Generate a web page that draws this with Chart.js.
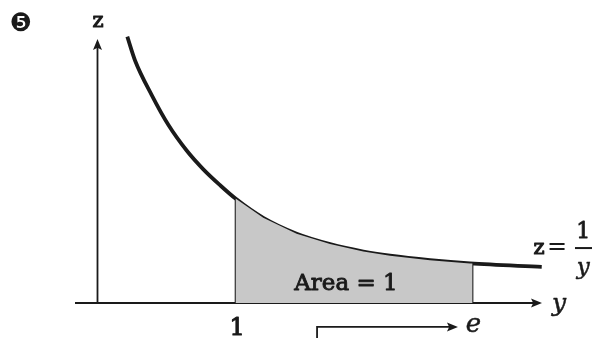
<!DOCTYPE html>
<html>
<head>
<meta charset="utf-8">
<script src="https://cdn.jsdelivr.net/npm/chart.js@4"></script>
<style>
html,body{margin:0;padding:0;background:#fff;}
#wrap{width:592px;height:338px;}
</style>
</head>
<body>
<div id="wrap"><canvas id="c" width="592" height="338"></canvas></div>
<script>
// ---- data ----
const curveY = [0.216,0.272,0.393,0.513,0.646,0.767,0.888,1.0,1.201,1.443,1.685,1.926,2.12,2.409,2.699,3.219];
const curveZ = [2.69,2.45,2.10,1.80,1.54,1.35,1.19,1.055,0.86,0.70,0.595,0.52,0.478,0.433,0.40,0.365];
const areaFrom = 1;
const areaTo = 2.718;       // e
const areaToZ = 0.398;
const tickLabels = ["1", "e"];
const tickValues = [1, 2.718];
const axisNames = ["y", "z"];
const areaLabel = "Area = 1";
const figureNumber = "❺";

// ---- derived ----
const curvePts = curveY.map((v,i)=>({x:v,y:curveZ[i]}));
const areaPts = curvePts.filter(p=>p.x>=areaFrom && p.x<=areaTo).concat([{x:areaTo,y:areaToZ}]);
const leftEdge = [{x:areaFrom,y:0},{x:areaFrom,y:areaPts[0].y}];
const rightEdge = [{x:areaTo,y:0},{x:areaTo,y:areaToZ}];
const hAxis = [{x:-0.163,y:0},{x:3.17,y:0}];
const vAxis = [{x:0,y:0},{x:0,y:2.62}];
const callout = [{x:1.591,y:-0.4},{x:1.591,y:-0.242},{x:2.56,y:-0.242}];

const ink = '#1a1a1a';

function arrowHead(ctx, x, y, dir, len, half){
  ctx.save();
  ctx.translate(x,y);
  ctx.rotate(dir);
  ctx.beginPath();
  ctx.moveTo(0,0);
  ctx.lineTo(-len,-half);
  ctx.lineTo(-len*0.8,0);
  ctx.lineTo(-len,half);
  ctx.closePath();
  ctx.fillStyle = ink;
  ctx.fill();
  ctx.restore();
}

function txt(ctx, s, x, y, font, heavy){
  ctx.font = font;
  ctx.fillText(s, x, y);
  if (heavy){
    ctx.lineWidth = heavy;
    ctx.strokeText(s, x, y);
  }
}

const annot = {
  id:'annot',
  afterDatasetsDraw(chart){
    const ctx = chart.ctx, sx = chart.scales.x, sy = chart.scales.y;
    const X = v=>sx.getPixelForValue(v), Y = v=>sy.getPixelForValue(v);
    // arrowheads
    arrowHead(ctx, X(3.221), Y(0), 0, 11, 4.5);
    arrowHead(ctx, X(0), Y(2.667), -Math.PI/2, 11, 4.5);
    arrowHead(ctx, X(2.612), Y(-0.242), 0, 11, 4.5);
    ctx.save();
    ctx.fillStyle = ink;
    ctx.strokeStyle = ink;
    ctx.lineJoin = 'round';
    ctx.textAlign = 'center';
    ctx.textBaseline = 'alphabetic';
    txt(ctx, figureNumber, X(-0.556), Y(2.75), '25px "DejaVu Sans"', 0);
    txt(ctx, axisNames[1], X(0.004), Y(2.79), '21px "DejaVu Serif"', 1.1);
    txt(ctx, axisNames[0], X(3.344), Y(-0.081), 'italic 25px "DejaVu Serif"', 0.5);
    txt(ctx, tickLabels[0], X(tickValues[0]+0.011), Y(-0.325), '24px "DejaVu Serif"', 1.1);
    txt(ctx, tickLabels[1], X(2.725), Y(-0.29), 'italic 26px "DejaVu Serif"', 0.5);
    txt(ctx, areaLabel, X(1.80), Y(0.13), '23px "DejaVu Serif"', 0.9);
    // z = 1/y
    txt(ctx, 'z', X(3.199), Y(0.50), '21px "DejaVu Serif"', 1.1);
    txt(ctx, '=', X(3.33), Y(0.50), '24px "DejaVu Serif"', 0);
    txt(ctx, '1', X(3.52), Y(0.655), '22px "DejaVu Serif"', 0.9);
    txt(ctx, 'y', X(3.52), Y(0.29), 'italic 23px "DejaVu Serif"', 0.5);
    ctx.fillRect(X(3.46), Y(0.555)-1, X(3.59)-X(3.46), 2);
    ctx.restore();
  }
};

new Chart(document.getElementById('c'), {
  type:'scatter',
  data:{datasets:[
    {data:areaPts, showLine:true, tension:0, borderWidth:0, pointRadius:0, fill:'origin', backgroundColor:'#c8c8c8', borderColor:'rgba(0,0,0,0)'},
    {data:leftEdge, showLine:true, borderWidth:1.6, borderColor:ink, pointRadius:0},
    {data:rightEdge, showLine:true, borderWidth:1.6, borderColor:ink, pointRadius:0},
    {data:hAxis, showLine:true, borderWidth:1.8, borderColor:ink, pointRadius:0},
    {data:vAxis, showLine:true, borderWidth:1.8, borderColor:ink, pointRadius:0},
    {data:callout, showLine:true, borderWidth:1.8, borderColor:ink, pointRadius:0},
    {data:curvePts, showLine:true, cubicInterpolationMode:'monotone', borderWidth:3.8, borderColor:ink, pointRadius:0, borderCapStyle:'butt'}
  ]},
  options:{
    responsive:false, animation:false, devicePixelRatio:1,
    layout:{padding:0},
    plugins:{legend:{display:false}, tooltip:{enabled:false}},
    scales:{
      x:{type:'linear', min:-0.7065, max:3.5833, display:false},
      y:{type:'linear', min:-0.3535, max:3.0606, display:false}
    }
  },
  plugins:[annot]
});
</script>
</body>
</html>
